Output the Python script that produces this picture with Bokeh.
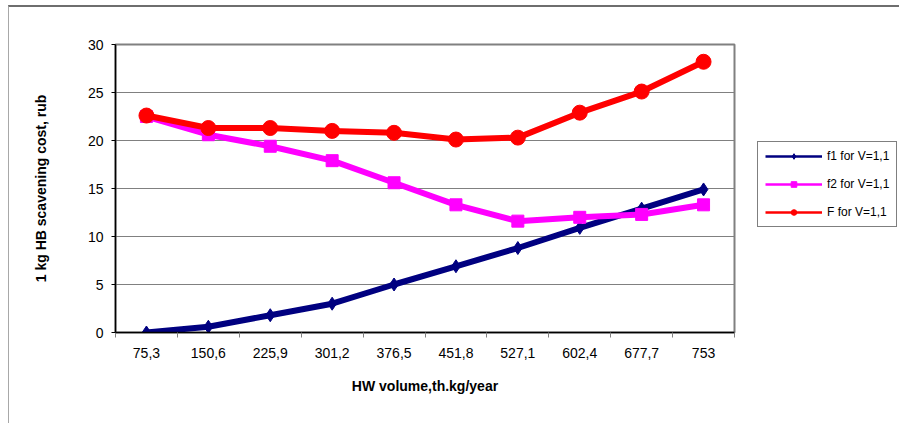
from bokeh.plotting import figure
from bokeh.models import (ColumnDataSource, FixedTicker, CustomJSTickFormatter,
                          Legend, LegendItem, Range1d)
from bokeh.embed import file_html
from bokeh.resources import INLINE

# ---- data ----
categories = ["75,3", "150,6", "225,9", "301,2", "376,5", "451,8", "527,1", "602,4", "677,7", "753"]
f1 = [0.0, 0.6, 1.8, 3.0, 5.0, 6.9, 8.8, 10.9, 12.9, 14.9]
f2 = [22.5, 20.6, 19.4, 17.9, 15.6, 13.3, 11.6, 12.0, 12.3, 13.3]
F = [22.6, 21.3, 21.3, 21.0, 20.8, 20.1, 20.3, 22.9, 25.1, 28.2]
series_names = ["f1 for V=1,1", "f2 for V=1,1", "F for V=1,1"]
y_ticks = [0, 5, 10, 15, 20, 25, 30]

xpos = [i + 0.5 for i in range(len(categories))]
src = ColumnDataSource(dict(x=xpos, f1=f1, f2=f2, F=F))

FONT = "Liberation Sans"

p = figure(frame_width=619, frame_height=288,
           min_border_left=106, min_border_right=165,
           min_border_top=37, min_border_bottom=91,
           x_range=Range1d(0, len(categories)), y_range=Range1d(0, 30),
           output_backend="svg", toolbar_location=None,
           background_fill_color="white", border_fill_color="white")
p.styles = {"margin-top": "5px", "margin-left": "8px",
            "border-top": "2px solid #6e6e6e", "border-left": "1px solid #a8a8a8"}

p.outline_line_color = "#808080"
p.outline_line_width = 2
p.xgrid.visible = False
p.ygrid.grid_line_color = "#808080"
p.ygrid.grid_line_width = 1
p.ygrid.ticker = FixedTicker(ticks=y_ticks)

# x axis: labels at category centres, ticks at boundaries
xa = p.xaxis[0]
xa.ticker = FixedTicker(ticks=xpos, minor_ticks=list(range(len(categories) + 1)))
xa.formatter = CustomJSTickFormatter(args=dict(labels=categories),
                                     code="const i = Math.floor(tick); return labels[i] || '';")
xa.major_tick_out = 0
xa.major_tick_in = 0
xa.minor_tick_out = 5
xa.minor_tick_in = 0
xa.minor_tick_line_color = "#808080"
xa.axis_line_color = "black"
xa.axis_line_width = 1.5
xa.major_label_standoff = 10
xa.major_label_text_font = FONT
xa.major_label_text_font_size = "14px"
xa.major_label_text_color = "black"
xa.axis_label = "HW volume,th.kg/year"
xa.axis_label_text_font = FONT
xa.axis_label_text_font_size = "14px"
xa.axis_label_text_font_style = "bold"
xa.axis_label_text_color = "black"
xa.axis_label_standoff = 17

ya = p.yaxis[0]
ya.ticker = FixedTicker(ticks=y_ticks)
ya.minor_tick_line_color = None
ya.major_tick_out = 4
ya.major_tick_in = 0
ya.major_tick_line_color = "black"
ya.axis_line_color = "black"
ya.axis_line_width = 1.5
ya.major_label_standoff = 8
ya.major_label_text_font = FONT
ya.major_label_text_font_size = "14px"
ya.major_label_text_color = "black"
ya.axis_label = "1 kg HB scavening cost, rub"
ya.axis_label_text_font = FONT
ya.axis_label_text_font_size = "14px"
ya.axis_label_text_font_style = "bold"
ya.axis_label_text_color = "black"
ya.axis_label_standoff = 36

colors = ["#000080", "#FF00FF", "#FF0000"]
markers = ["diamond", "square", "circle"]
sizes = [13, 12, 15]
cols = ["f1", "f2", "F"]

items = []
for col, c, m, s, name in zip(cols, colors, markers, sizes, series_names):
    p.line("x", col, source=src, line_color=c, line_width=6)
    p.scatter("x", col, source=src, marker=m, size=s, fill_color=c, line_color=c)
    # thin legend sample (NaN point: nothing drawn in the plot area)
    blank = ColumnDataSource(dict(x=[float("nan")], y=[float("nan")]))
    rl = p.line("x", "y", source=blank, line_color=c, line_width=2.5)
    rm = p.scatter("x", "y", source=blank, marker=m, size=7 if m != "diamond" else 8,
                   fill_color=c, line_color=c)
    items.append(LegendItem(label=name, renderers=[rl, rm]))

legend = Legend(items=items, location=(23, 105))
legend.label_text_font = FONT
legend.label_text_font_size = "12px"
legend.label_text_color = "black"
legend.glyph_width = 57
legend.glyph_height = 14
legend.label_height = 14
legend.spacing = 14
legend.padding = 7
legend.margin = 0
legend.label_standoff = 5
legend.border_line_color = "black"
legend.border_line_width = 1
legend.background_fill_color = "white"
legend.background_fill_alpha = 1
p.add_layout(legend, "right")

open("out.html", "w").write(file_html(p, INLINE))
